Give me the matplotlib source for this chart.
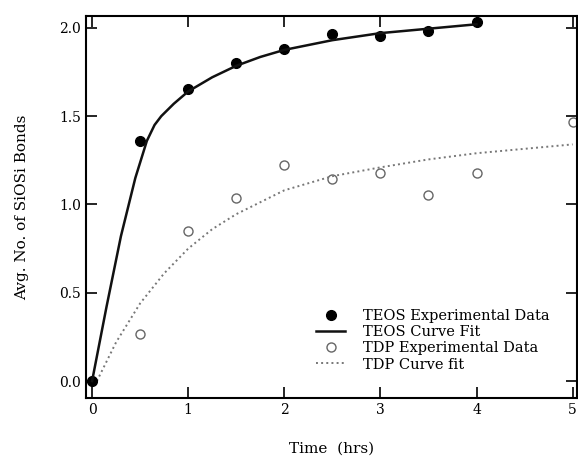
import numpy as np
import matplotlib
matplotlib.use('Agg')
import matplotlib.pyplot as plt

time_pts = [0, 0.5, 1, 1.5, 2, 2.5, 3, 3.5, 4]
teos_data = [0.0, 1.36, 1.655, 1.80, 1.88, 1.965, 1.955, 1.98, 2.035]

tdp_time = [0, 0.5, 1, 1.5, 2, 2.5, 3, 3.5, 4, 5]
tdp_data = [0.0, 0.265, 0.85, 1.035, 1.225, 1.145, 1.18, 1.055, 1.18, 1.465]

# fitted curves (traced)
teos_fit_t = [0, 0.15, 0.3, 0.45, 0.57, 0.65, 0.72, 0.85, 1.0, 1.25, 1.5, 1.75, 2.0, 2.5, 3.0, 3.5, 4.0]
teos_fit_y = [0.0, 0.42, 0.82, 1.15, 1.36, 1.45, 1.50, 1.57, 1.64, 1.72, 1.785, 1.835, 1.875, 1.93, 1.97, 1.995, 2.02]

tdp_fit_t = [0.05, 0.25, 0.5, 0.75, 1.0, 1.25, 1.5, 2.0, 2.5, 3.0, 3.5, 4.0, 4.5, 5.0]
tdp_fit_y = [0.0, 0.22, 0.44, 0.61, 0.75, 0.86, 0.945, 1.08, 1.16, 1.21, 1.255, 1.29, 1.315, 1.34]

plt.rcParams['font.family'] = ['DejaVu Serif']

fig = plt.figure(figsize=(5.78, 4.65), dpi=100)
ax = fig.add_axes([0.149, 0.144, 0.85, 0.822])

l3, = ax.plot(tdp_time, tdp_data, 'o', markerfacecolor='white', markeredgecolor='#666666',
              markeredgewidth=1.0, markersize=6.5, label='TDP Experimental Data')
l4, = ax.plot(tdp_fit_t, tdp_fit_y, ':', color='#777777', linewidth=1.4, label='TDP Curve fit')
l1, = ax.plot(time_pts, teos_data, 'o', color='black', markersize=7, label='TEOS Experimental Data')
l2, = ax.plot(teos_fit_t, teos_fit_y, '-', color='#111111', linewidth=1.8, label='TEOS Curve Fit')

ax.set_xlim(-0.062, 5.05)
ax.set_ylim(-0.096, 2.068)
ax.set_xticks([0, 1, 2, 3, 4, 5])
ax.set_yticks([0.0, 0.5, 1.0, 1.5, 2.0])
ax.set_yticklabels(['0.0', '0.5', '1.0', '1.5', '2.0'])

ax.tick_params(direction='in', length=8, width=1.2, top=True, right=True, labelsize=10)
for s in ax.spines.values():
    s.set_linewidth(1.5)

ax.set_ylabel('Avg. No. of SiOSi Bonds', fontsize=11, labelpad=22)
ax.set_xlabel('Time  (hrs)', fontsize=11, labelpad=18)

leg = ax.legend(handles=[l1, l2, l3, l4], loc='lower right', bbox_to_anchor=(0.97, 0.035),
                frameon=False, fontsize=10.5, handlelength=2.0, labelspacing=0.15,
                handletextpad=1.2)

fig.savefig('out.png', dpi=100)
